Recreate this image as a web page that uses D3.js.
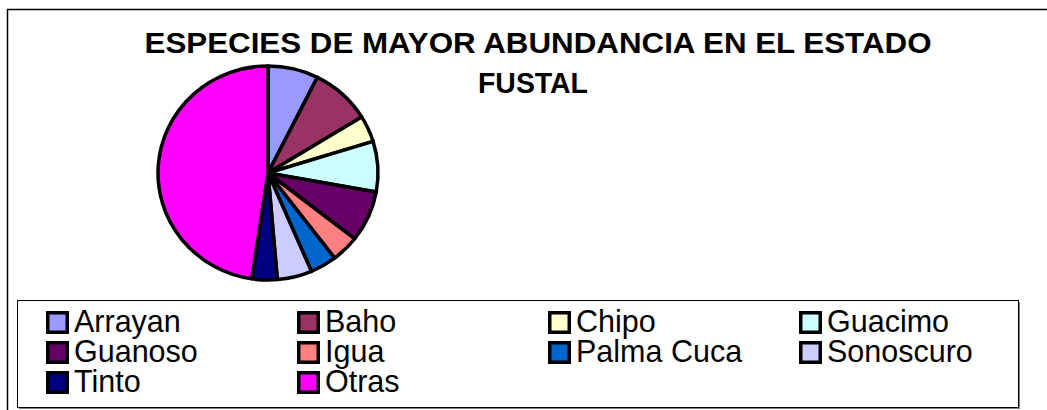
<!DOCTYPE html>
<html>
<head>
<meta charset="utf-8">
<script src="https://cdn.jsdelivr.net/npm/d3@7"></script>
<style>
	body { margin: 0; background: #fff; }
	svg { display: block; font-family: "Liberation Sans", Arial, sans-serif; }
	.slice { stroke: #000; stroke-width: 3.5px; vector-effect: non-scaling-stroke; stroke-linejoin: round; }
	.legend_box { fill: #fff; stroke: #000; stroke-width: 1px; }
	.legend_label { font-size: 30.5px; fill: #000; }
	.title { font-size: 29px; font-weight: bold; text-anchor: middle; }
</style>
</head>
<body>
<svg id="chart" width="1047" height="410"></svg>
<script>
	// species and their share (percent)
	var species = ["Arrayan", "Baho", "Chipo", "Guacimo", "Guanoso", "Igua", "Palma Cuca", "Sonoscuro", "Tinto", "Otras"];
	var shares = [7.4, 8.8, 4.0, 7.6, 7.7, 4.1, 3.9, 5.1, 3.7, 47.6];
	var colours = ["#9999FF", "#993366", "#FFFFCC", "#CCFFFF", "#660066", "#FF8080", "#0066CC", "#CCCCFF", "#000080", "#FF00FF"];
	var title_lines = ["ESPECIES DE MAYOR ABUNDANCIA EN EL ESTADO", "FUSTAL"];

	var svg = d3.select("#chart");

	// chart area frame, runs off the right and bottom of the picture
	svg.append("path")
		.attr("d", "M7.5,410V9.5H1047")
		.attr("fill", "none")
		.attr("stroke", "#000")
		.attr("stroke-width", 1.5);

	// title, stretched to the width the original renderer gave it
	var title_x = [538, 533],
		title_w = [787, 110];
	svg.selectAll(".title")
		.data(title_lines)
		.enter()
		.append("text")
		.attr("class", "title")
		.attr("x", function(d, i){ return title_x[i]; })
		.attr("y", function(d, i){ return 53 + i*40; })
		.attr("textLength", function(d, i){ return title_w[i]; })
		.attr("lengthAdjust", "spacingAndGlyphs")
		.text(function(d){ return d; });

	// pie (slightly squashed, like the original)
	var rx = 110, ry = 107;
	var data = species.map(function(s, i){ return {name: s, value: shares[i], colour: colours[i]}; });
	var pie = d3.pie().sort(null).value(function(d){ return d.value; });
	var arc = d3.arc().innerRadius(0).outerRadius(rx);

	var pie_g = svg.append("g")
		.attr("transform", "translate(268,173) scale(1," + (ry/rx) + ")");
	pie_g.selectAll(".slice")
		.data(pie(data))
		.enter()
		.append("path")
		.attr("class", "slice")
		.attr("fill", function(d){ return d.data.colour; })
		.attr("d", arc);

	// legend box with grey shadow
	var lb = {x: 17, y: 300, w: 1001, h: 107};
	svg.append("rect")
		.attr("x", lb.x + 2).attr("y", lb.y + 2)
		.attr("width", lb.w).attr("height", lb.h)
		.attr("fill", "#808080");
	svg.append("rect")
		.attr("class", "legend_box")
		.attr("x", lb.x + 0.5).attr("y", lb.y + 0.5)
		.attr("width", lb.w).attr("height", lb.h);

	var col = d3.scaleLinear().domain([0, 1]).range([46, 297]);
	var row = d3.scaleLinear().domain([0, 1]).range([311, 341]);

	var item = svg.selectAll(".legend_item")
		.data(data)
		.enter()
		.append("g")
		.attr("class", "legend_item")
		.attr("transform", function(d, i){ return "translate(" + col(i % 4) + "," + row(Math.floor(i/4)) + ")"; });
	item.append("rect")
		.attr("x", 1.75).attr("y", 1.75)
		.attr("width", 19.5).attr("height", 19.5)
		.attr("fill", function(d){ return d.colour; })
		.attr("stroke", "#000")
		.attr("stroke-width", 3.5);
	item.append("text")
		.attr("class", "legend_label")
		.attr("x", 28)
		.attr("y", 21)
		.text(function(d){ return d.name; });
</script>
</body>
</html>
